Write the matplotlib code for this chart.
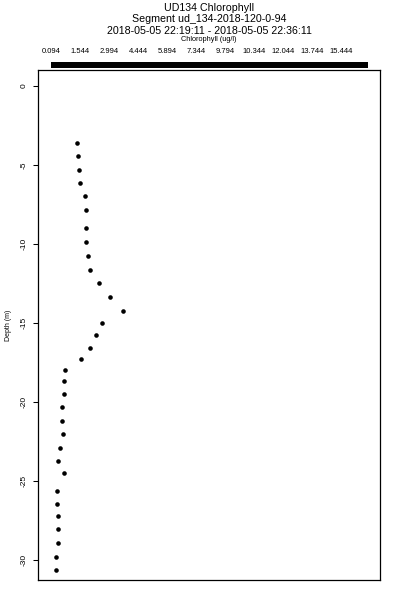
import numpy as np
import matplotlib
matplotlib.use('Agg')
import matplotlib.pyplot as plt
from matplotlib.patches import Rectangle
import matplotlib.transforms as mtransforms

plt.rcParams['font.family'] = ['Liberation Sans', 'DejaVu Sans']

# ---- data ----
depth = [-3.63, -4.45, -5.31, -6.13, -6.99, -7.85, -9.00, -9.89, -10.77, -11.65,
         -12.47, -13.35, -14.22, -15.02, -15.79, -16.57, -17.31, -18.00, -18.69, -19.50,
         -20.35, -21.22, -22.06, -22.90, -23.72, -24.51, -25.63, -26.43, -27.23, -28.07,
         -28.93, -29.79, -30.63]
chl = [1.34, 1.39, 1.45, 1.51, 1.74, 1.79, 1.79, 1.79, 1.89, 1.98,
       2.40, 2.95, 3.58, 2.58, 2.29, 1.98, 1.56, 0.76, 0.74, 0.74,
       0.61, 0.61, 0.66, 0.53, 0.42, 0.72, 0.39, 0.39, 0.43, 0.43,
       0.43, 0.35, 0.32]

top_labels = ['0.094', '1.544', '2.994', '4.444', '5.894', '7.344',
              '9.794', '10.344', '12.044', '13.744', '15.444']
y_ticks = [0, -5, -10, -15, -20, -25, -30]

title_lines = ['UD134 Chlorophyll',
               'Segment ud_134-2018-120-0-94',
               '2018-05-05 22:19:11 - 2018-05-05 22:36:11']
xlab = 'Chlorophyll (ug/l)'
ylab = 'Depth (m)'

chl_min, chl_max = 0.094, 15.444

# =====================================================================
fig = plt.figure(figsize=(4, 6), dpi=100)
ax = fig.add_axes([38 / 400, 1 - 580 / 600, 342 / 400, 510 / 600])

ax.plot(chl, depth, 'o', color='black', ms=3.3, mec='black', mew=0)

ax.set_xlim(-0.535, 16.025)
ax.set_ylim(-31.27, 1.0)

# top axis: labels only, thick bar across data range
ax.set_xticks(np.linspace(chl_min, 14.14, len(top_labels)))
ax.set_xticklabels(top_labels)
ax.tick_params(axis='x', bottom=False, labelbottom=False, top=False,
               labeltop=True, length=0, pad=10.5, labelsize=5.5)

trans = mtransforms.blended_transform_factory(ax.transData, ax.transAxes)
bar = Rectangle((chl_min, 1.0045), chl_max - chl_min, 0.0105,
                transform=trans, color='black', clip_on=False, lw=0)
ax.add_patch(bar)

ax.set_yticks(y_ticks)
ax.set_yticklabels([str(t) for t in y_ticks], rotation=90, va='center')
ax.tick_params(axis='y', length=3.6, width=0.75, pad=4, labelsize=6)
ax.set_ylabel(ylab, fontsize=5, labelpad=6)

for s in ax.spines.values():
    s.set_linewidth(0.9)

# titles
cx = (38 + 380) / 2 / 400
for txt, yp in zip(title_lines, [8, 19.5, 31]):
    fig.text(cx, 1 - yp / 600, txt, ha='center', va='center', fontsize=7.7)
fig.text(cx, 1 - 39.5 / 600, xlab, ha='center', va='center', fontsize=5.3)

fig.savefig('out.png', dpi=100)
plt.close()
